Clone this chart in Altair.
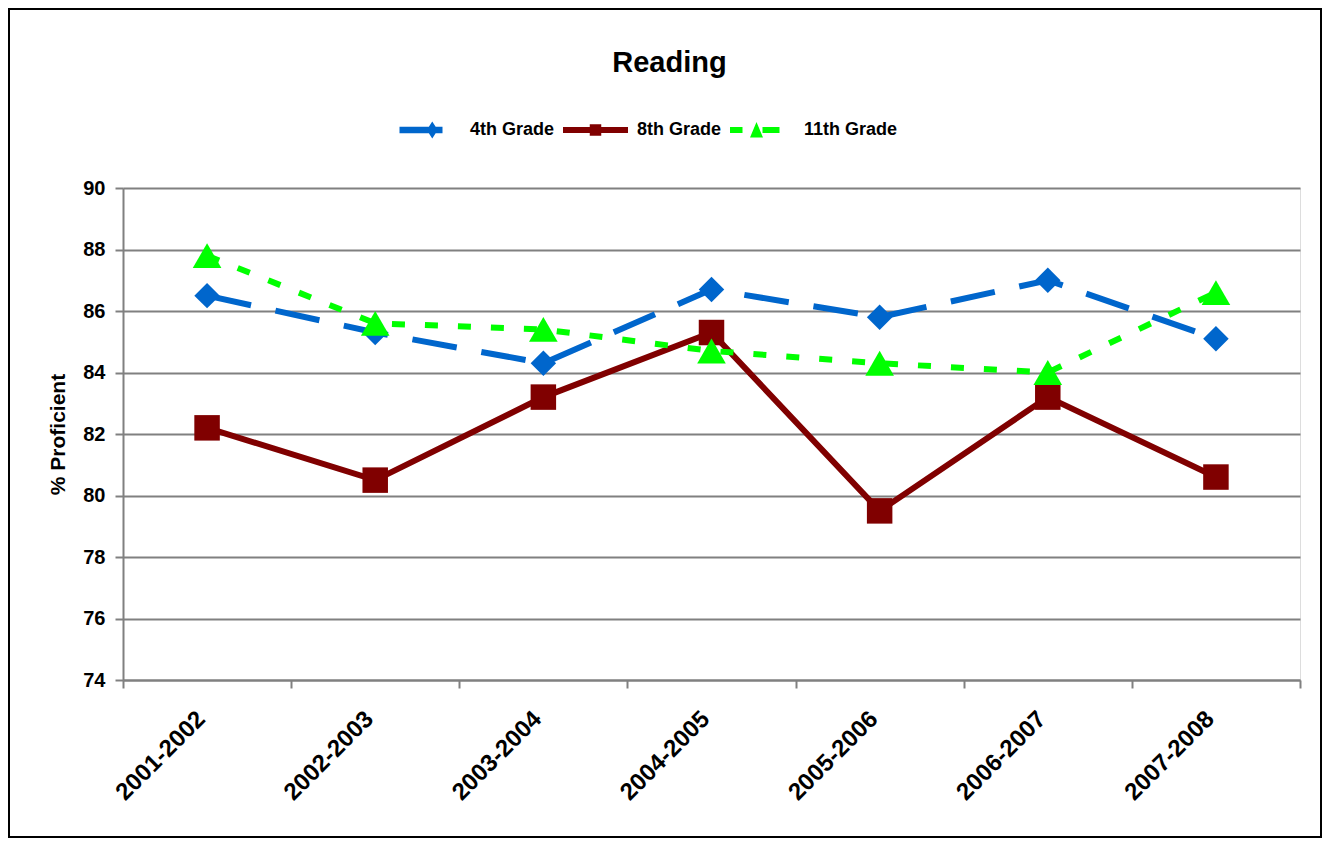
import altair as alt
import pandas as pd

years = ["2001-2002", "2002-2003", "2003-2004", "2004-2005", "2005-2006", "2006-2007", "2007-2008"]
grade4 = [86.5, 85.3, 84.3, 86.7, 85.8, 87.0, 85.1]
grade8 = [82.2, 80.5, 83.2, 85.3, 79.5, 83.2, 80.6]
grade11 = [87.8, 85.6, 85.4, 84.7, 84.3, 84.0, 86.6]
series_names = ["4th Grade", "8th Grade", "11th Grade"]
series_colors = ["#0066CC", "#800000", "#00FF00"]
y_ticks = [74, 76, 78, 80, 82, 84, 86, 88, 90]

rows = []
for name, vals in zip(series_names, [grade4, grade8, grade11]):
    for yr, v in zip(years, vals):
        rows.append({"Year": yr, "Series": name, "Value": v})
df = pd.DataFrame(rows)

FONT = "Liberation Sans"
W, H = 1177, 492

x_enc = alt.X(
    "Year:N", sort=years, title=None,
    scale=alt.Scale(type="band", paddingInner=0, paddingOuter=0),
    axis=alt.Axis(
        tickBand="extent", grid=False, labelAngle=-45, labelAlign="right",
        labelBaseline="middle", labelPadding=27, labelOffset=-6, labelFontSize=24,
        labelFontWeight="bold", labelFont=FONT, labelColor="black",
        domainColor="#808080", domainWidth=2, tickColor="#808080",
        tickWidth=2, tickSize=8,
    ),
)
y_enc = alt.Y(
    "Value:Q", title="% Proficient",
    scale=alt.Scale(domain=[74, 90], nice=False, zero=False),
    axis=alt.Axis(
        values=y_ticks, grid=True, gridColor="#808080", gridWidth=2,
        domainColor="#808080", domainWidth=2, tickColor="#808080",
        tickWidth=2, tickSize=8, labelPadding=10, labelFontSize=20,
        labelFontWeight="bold", labelFont=FONT, labelColor="black",
        titleFontSize=21, titleFontWeight="bold", titleFont=FONT,
        titleColor="black", titlePadding=14,
    ),
)

dashes = [[45, 25], None, [13, 20]]
shapes = ["diamond", "square", "triangle-up"]
sizes = [650, 650, 820]

layers = []
for name, color, dash in zip(series_names, series_colors, dashes):
    kw = dict(color=color, strokeWidth=6)
    if dash:
        kw["strokeDash"] = dash
    layers.append(
        alt.Chart(df).transform_filter(alt.datum.Series == name)
        .mark_line(**kw).encode(x=x_enc, y=y_enc)
    )
for name, color, shp, sz in zip(series_names, series_colors, shapes, sizes):
    layers.append(
        alt.Chart(df).transform_filter(alt.datum.Series == name)
        .mark_point(shape=shp, filled=True, size=sz, color=color, opacity=1)
        .encode(x=x_enc, y=y_enc)
    )

legend_paths = [
    "M-0.86,-0.13L0.86,-0.13L0.86,0.13L-0.86,0.13Z M0.45,-0.34L0.67,0L0.45,0.34L0.23,0Z",
    "M-1,-0.12L1.6,-0.12L1.6,0.12L-1,0.12Z M0.07,-0.23L0.53,-0.23L0.53,0.23L0.07,0.23Z",
    "M-1,-0.12L-0.5,-0.12L-0.5,0.12L-1,0.12Z M0.06,-0.32L0.32,0.3L-0.2,0.3Z M0.3,-0.12L0.98,-0.12L0.98,0.12L0.3,0.12Z",
]
legend_layer = alt.Chart(df).transform_filter("false").mark_point(filled=True, opacity=1).encode(
    x=x_enc, y=y_enc,
    color=alt.Color("Series:N", sort=series_names,
                    scale=alt.Scale(domain=series_names, range=series_colors),
                    legend=alt.Legend(
                        orient="none", direction="horizontal", legendX=273, legendY=-83,
                        title=None, symbolSize=2500, symbolOpacity=1, symbolStrokeWidth=0,
                        labelFontSize=18, labelFontWeight="bold", labelFont=FONT,
                        labelColor="black", labelOffset=24, columnPadding=8,
                    )),
    shape=alt.Shape("Series:N", sort=series_names,
                    scale=alt.Scale(domain=series_names, range=legend_paths)),
)
layers.append(legend_layer)

frame = alt.Chart(pd.DataFrame({"a": [0]})).mark_rect(
    fillOpacity=0, stroke="black", strokeWidth=2, clip=False
).encode(x=alt.value(-114), x2=alt.value(W + 21), y=alt.value(-179), y2=alt.value(H + 157))
layers.append(frame)

chart = alt.layer(*layers).properties(
    width=W, height=H,
    title=alt.TitleParams("Reading", fontSize=29, fontWeight="bold", font=FONT,
                          color="black", anchor="middle", frame="group",
                          baseline="bottom", offset=0, dy=99, dx=-42),
    autosize=alt.AutoSizeParams(type="none"),
    padding={"left": 115, "top": 180, "right": 22, "bottom": 158},
).configure_view(stroke=None).configure(background="white")

chart.save("out.html", embed_options={"renderer": "svg", "actions": False})
